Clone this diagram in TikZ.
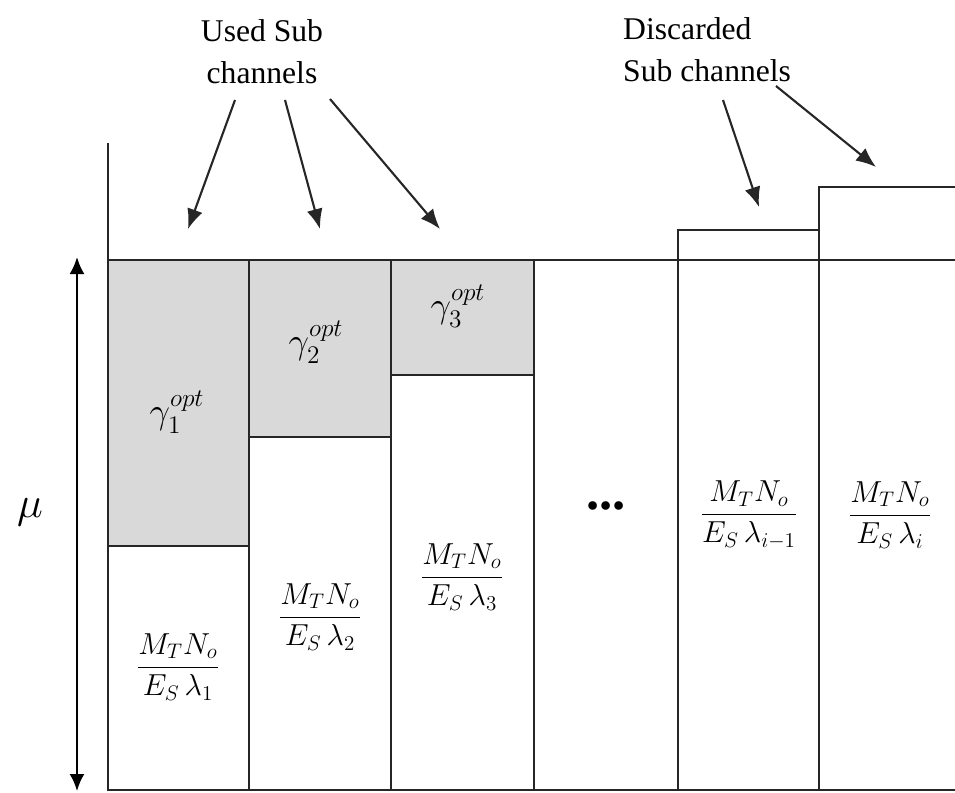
\documentclass[tikz,border=0pt]{standalone}
\usepackage{amsmath}
\usepackage{fontspec}
\setmainfont{Liberation Serif}
\usetikzlibrary{arrows.meta}
\begin{document}
\begin{tikzpicture}[x=0.02cm,y=-0.02cm,line width=1.4pt,
  edge/.style={draw=black!85},
  optcell/.style={fill=gray!30,draw=black!85},
  lbl/.style={font=\fontsize{18}{24}\selectfont,inner sep=0pt},
  ptr/.style={-{Latex[length=0.4cm,width=0.32cm]},line width=1.2pt,draw=black!85},
  mth/.style={font=\fontsize{18}{22}\selectfont,inner sep=0pt},
  dbl/.style={{Latex[length=0.34cm,width=0.3cm]}-{Latex[length=0.34cm,width=0.3cm]},line width=1.3pt,draw=black}]
\useasboundingbox (0,0) rectangle (955,792);
% shaded (allocated) parts
\filldraw[optcell] (108,260) rectangle (249,546);
\filldraw[optcell] (249,260) rectangle (391,437);
\filldraw[optcell] (391,260) rectangle (534,375);
% frame and columns
\draw[edge] (108,143) -- (108,790) -- (955,790);
\draw[edge] (108,260) -- (955,260);
\draw[edge] (249,260) -- (249,790);
\draw[edge] (391,260) -- (391,790);
\draw[edge] (534,260) -- (534,790);
\draw[edge] (678,790) -- (678,230) -- (819,230);
\draw[edge] (819,790) -- (819,187) -- (955,187);
% level arrow
\coordinate (lvtop) at (77,257);
\coordinate (lvbot) at (77,791);
\draw[dbl] (lvtop) -- (lvbot);
\node[mth,font=\fontsize{24}{28}\selectfont] (mu) at (30,512) {$\mu$};
% shaded labels
\node[mth,font=\fontsize{20}{24}\selectfont] (g1) at (177,412) {$\displaystyle\gamma_1^{opt}$};
\node[mth,font=\fontsize{20}{24}\selectfont] (g2) at (316,342) {$\displaystyle\gamma_2^{opt}$};
\node[mth,font=\fontsize{20}{24}\selectfont] (g3) at (458,306) {$\displaystyle\gamma_3^{opt}$};
% fractions
\node[mth] (f1) at (178,667) {$\dfrac{M_TN_o}{E_S\,\lambda_1}$};
\node[mth] (f2) at (320,617) {$\dfrac{M_TN_o}{E_S\,\lambda_2}$};
\node[mth] (f3) at (462,577) {$\dfrac{M_TN_o}{E_S\,\lambda_3}$};
\node[mth] (f5) at (749,515) {$\dfrac{M_TN_o}{E_S\,\lambda_{i-1}}$};
\node[mth] (f6) at (890,515) {$\dfrac{M_TN_o}{E_S\,\lambda_i}$};
\node[inner sep=0pt,font=\fontsize{30}{30}\selectfont\bfseries] (dots) at (606,506) {...};
% captions
\node[lbl,align=center] (used) at (262,52) {Used Sub\\channels};
\node[lbl,align=left,anchor=west] (disc) at (622,50) {Discarded\\Sub channels};
% pointers
\coordinate (u1s) at (235,100); \coordinate (u1t) at (188,229);
\coordinate (u2s) at (285,100); \coordinate (u2t) at (320,229);
\coordinate (u3s) at (330,99);  \coordinate (u3t) at (440,229);
\coordinate (d1s) at (723,100); \coordinate (d1t) at (759,207);
\coordinate (d2s) at (776,86);  \coordinate (d2t) at (876,167);
\draw[ptr] (u1s) -- (u1t);
\draw[ptr] (u2s) -- (u2t);
\draw[ptr] (u3s) -- (u3t);
\draw[ptr] (d1s) -- (d1t);
\draw[ptr] (d2s) -- (d2t);
\end{tikzpicture}
\end{document}
